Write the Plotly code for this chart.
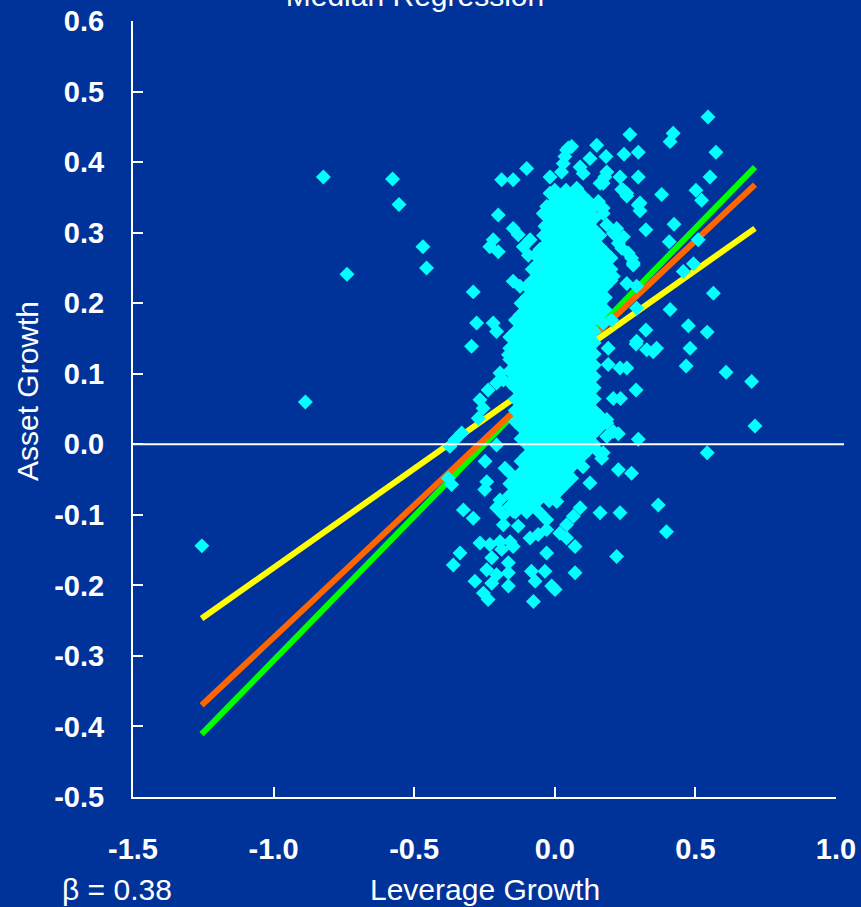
import plotly.graph_objects as go

# ---------------- data ----------------
# individually read scatter points (Leverage Growth, Asset Growth)
outlier_x = [
    -0.823, -0.577, -0.554, -0.469, -0.456, -0.739, -0.887, -1.255,
    0.545, 0.267, 0.421, 0.410, 0.573, 0.182, 0.246, 0.297, 0.552, 0.297, 0.232, 0.178,
    0.502, 0.522, 0.380, 0.238, 0.256, 0.303, 0.303, 0.424, 0.324, 0.407, 0.510, 0.493,
    0.457, 0.564, 0.279, 0.261, 0.226, 0.244, 0.291, 0.220, 0.208, 0.185, 0.172, 0.172,
    0.185, 0.172,
    0.410, 0.475, 0.542, 0.324, 0.289, 0.327, 0.362, 0.350, 0.481, 0.467, 0.609, 0.700,
    0.190, 0.190, 0.232, 0.256, 0.289, 0.208, 0.234, 0.185, 0.712, 0.226, 0.185, 0.297,
    0.542, 0.226, 0.273, 0.167, 0.178, 0.172, 0.202, 0.291,
    0.149, 0.048, 0.036, 0.030, 0.125, -0.100, -0.017, 0.024, -0.189, -0.148, 0.090, 0.101,
    0.161, 0.078, 0.090, -0.017, 0.001, 0.155, 0.244, 0.256, 0.297, 0.030, 0.036, -0.029,
    -0.041, -0.201, -0.035, -0.148, -0.130, -0.088, -0.219, -0.231, -0.201, -0.112, -0.094,
    0.214, 0.238, 0.273, 0.279, -0.053, -0.064, -0.290, -0.148, -0.124, -0.088, -0.064,
    -0.041, 0.137, 0.208, 0.256, 0.042, 0.060,
    -0.278, -0.219, -0.207, -0.296, -0.124, 0.291, -0.165, -0.195, -0.183, -0.207, -0.237,
    -0.266, -0.255, -0.272, -0.331, -0.355, -0.373, 0.208, 0.185, 0.149, 0.172, -0.207,
    -0.379, -0.367, -0.242, -0.249, -0.325, -0.290, -0.177, -0.159, 0.125, 0.161, 0.232,
    0.090, 0.066, 0.042, -0.005, 0.007, -0.064, -0.088, -0.053, -0.029, -0.195, -0.207,
    -0.183, -0.148, -0.183, -0.130, -0.088, -0.059, -0.029, 0.018, 0.042, 0.072, -0.266,
    -0.231, -0.195, -0.159, -0.148, -0.189, -0.224, -0.029, -0.337, -0.361, -0.165, 0.220,
    -0.242, -0.207, -0.165, -0.284, -0.224, -0.165, -0.083, -0.035, -0.070, 0.072, -0.011,
    0.001, -0.254, -0.237, -0.076, -0.248, 0.368, 0.397,
]
outlier_y = [
    0.379, 0.376, 0.340, 0.280, 0.250, 0.241, 0.060, -0.144,
    0.464, 0.439, 0.441, 0.429, 0.414, 0.408, 0.411, 0.414, 0.379, 0.379, 0.379, 0.379,
    0.360, 0.346, 0.354, 0.361, 0.352, 0.342, 0.331, 0.312, 0.304, 0.287, 0.290, 0.256,
    0.245, 0.214, 0.257, 0.271, 0.285, 0.294, 0.224, 0.306, 0.299, 0.311, 0.335, 0.327,
    0.386, 0.370,
    0.191, 0.168, 0.159, 0.162, 0.142, 0.134, 0.136, 0.131, 0.136, 0.111, 0.102, 0.089,
    0.136, 0.113, 0.108, 0.108, 0.077, 0.065, 0.065, 0.035, 0.026, 0.015, 0.011, 0.007,
    -0.012, -0.036, -0.041, -0.020, 0.191, 0.172, 0.176, 0.193,
    0.424, 0.420, 0.408, 0.398, 0.405, 0.391, 0.379, 0.386, 0.375, 0.375, 0.393, 0.384,
    0.370, 0.363, 0.351, 0.356, 0.349, 0.344, 0.360, 0.356, 0.339, 0.346, 0.332, 0.337,
    0.327, 0.325, 0.309, 0.306, 0.297, 0.290, 0.290, 0.280, 0.273, 0.280, 0.268,
    0.297, 0.278, 0.264, 0.254, 0.276, 0.266, 0.216, 0.231, 0.224, 0.224, 0.235,
    0.247, 0.242, 0.238, 0.228, 0.417, 0.422,
    0.172, 0.172, 0.160, 0.139, 0.183, 0.146, 0.127, 0.101, 0.091, 0.087, 0.077,
    0.063, 0.051, 0.037, 0.016, 0.006, -0.003, 0.018, 0.030, -0.008, -0.012, -0.001,
    -0.048, -0.057, -0.053, -0.064, -0.093, -0.105, -0.034, -0.041, -0.055, -0.097, -0.097,
    -0.090, -0.102, -0.114, -0.069, -0.081, -0.076, -0.090, -0.097, -0.107, -0.079, -0.090,
    -0.100, -0.095, -0.114, -0.116, -0.133, -0.128, -0.121, -0.126, -0.133, -0.145, -0.140,
    -0.142, -0.138, -0.138, -0.145, -0.149, -0.161, -0.154, -0.154, -0.171, -0.168, -0.159,
    -0.178, -0.185, -0.182, -0.194, -0.197, -0.201, -0.180, -0.180, -0.194, -0.182, -0.201,
    -0.206, -0.211, -0.220, -0.223, -0.024, -0.086, -0.124,
]

# dense core of the cloud, read row by row: (asset growth, [leverage growth values])
core_rows = [
    (0.360, [0.00, 0.04, 0.08]),
    (0.352, [0.02, 0.06, 0.10]),
    (0.344, [0.00, 0.04, 0.08, 0.12]),
    (0.336, [-0.02, 0.02, 0.06, 0.10, 0.14]),
    (0.328, [0.00, 0.04, 0.08, 0.12]),
    (0.320, [-0.02, 0.02, 0.06, 0.10, 0.14]),
    (0.312, [0.00, 0.04, 0.08, 0.12]),
    (0.304, [-0.02, 0.02, 0.06, 0.10, 0.14]),
    (0.296, [-0.04, 0.00, 0.04, 0.08, 0.12, 0.16]),
    (0.288, [-0.02, 0.02, 0.06, 0.10, 0.14]),
    (0.280, [-0.04, 0.00, 0.04, 0.08, 0.12, 0.16]),
    (0.272, [-0.06, -0.02, 0.02, 0.06, 0.10, 0.14, 0.18]),
    (0.264, [-0.04, 0.00, 0.04, 0.08, 0.12, 0.16, 0.20]),
    (0.256, [-0.06, -0.02, 0.02, 0.06, 0.10, 0.14, 0.18]),
    (0.248, [-0.08, -0.04, 0.00, 0.04, 0.08, 0.12, 0.16, 0.20]),
    (0.240, [-0.06, -0.02, 0.02, 0.06, 0.10, 0.14, 0.18]),
    (0.232, [-0.08, -0.04, 0.00, 0.04, 0.08, 0.12, 0.16, 0.20]),
    (0.224, [-0.10, -0.06, -0.02, 0.02, 0.06, 0.10, 0.14, 0.18]),
    (0.216, [-0.08, -0.04, 0.00, 0.04, 0.08, 0.12, 0.16]),
    (0.208, [-0.10, -0.06, -0.02, 0.02, 0.06, 0.10, 0.14, 0.18]),
    (0.200, [-0.12, -0.08, -0.04, 0.00, 0.04, 0.08, 0.12, 0.16]),
    (0.192, [-0.10, -0.06, -0.02, 0.02, 0.06, 0.10, 0.14]),
    (0.184, [-0.12, -0.08, -0.04, 0.00, 0.04, 0.08, 0.12, 0.16]),
    (0.176, [-0.14, -0.10, -0.06, -0.02, 0.02, 0.06, 0.10, 0.14]),
    (0.168, [-0.12, -0.08, -0.04, 0.00, 0.04, 0.08, 0.12]),
    (0.160, [-0.14, -0.10, -0.06, -0.02, 0.02, 0.06, 0.10, 0.14]),
    (0.152, [-0.16, -0.12, -0.08, -0.04, 0.00, 0.04, 0.08, 0.12]),
    (0.144, [-0.14, -0.10, -0.06, -0.02, 0.02, 0.06, 0.10, 0.14]),
    (0.136, [-0.16, -0.12, -0.08, -0.04, 0.00, 0.04, 0.08, 0.12]),
    (0.128, [-0.14, -0.10, -0.06, -0.02, 0.02, 0.06, 0.10, 0.14]),
    (0.120, [-0.16, -0.12, -0.08, -0.04, 0.00, 0.04, 0.08, 0.12]),
    (0.112, [-0.14, -0.10, -0.06, -0.02, 0.02, 0.06, 0.10, 0.14]),
    (0.104, [-0.16, -0.12, -0.08, -0.04, 0.00, 0.04, 0.08, 0.12]),
    (0.096, [-0.14, -0.10, -0.06, -0.02, 0.02, 0.06, 0.10, 0.14]),
    (0.088, [-0.16, -0.12, -0.08, -0.04, 0.00, 0.04, 0.08, 0.12]),
    (0.080, [-0.14, -0.10, -0.06, -0.02, 0.02, 0.06, 0.10, 0.14]),
    (0.072, [-0.12, -0.08, -0.04, 0.00, 0.04, 0.08, 0.12]),
    (0.064, [-0.14, -0.10, -0.06, -0.02, 0.02, 0.06, 0.10, 0.14]),
    (0.056, [-0.12, -0.08, -0.04, 0.00, 0.04, 0.08, 0.12]),
    (0.048, [-0.14, -0.10, -0.06, -0.02, 0.02, 0.06, 0.10, 0.14]),
    (0.040, [-0.12, -0.08, -0.04, 0.00, 0.04, 0.08, 0.12, 0.16]),
    (0.032, [-0.14, -0.10, -0.06, -0.02, 0.02, 0.06, 0.10, 0.14]),
    (0.024, [-0.12, -0.08, -0.04, 0.00, 0.04, 0.08, 0.12, 0.16]),
    (0.016, [-0.10, -0.06, -0.02, 0.02, 0.06, 0.10, 0.14]),
    (0.008, [-0.12, -0.08, -0.04, 0.00, 0.04, 0.08, 0.12]),
    (0.000, [-0.10, -0.06, -0.02, 0.02, 0.06, 0.10, 0.14]),
    (-0.008, [-0.08, -0.04, 0.00, 0.04, 0.08, 0.12]),
    (-0.016, [-0.10, -0.06, -0.02, 0.02, 0.06, 0.10]),
    (-0.024, [-0.12, -0.08, -0.04, 0.00, 0.04, 0.08]),
    (-0.032, [-0.10, -0.06, -0.02, 0.02, 0.06, 0.10]),
    (-0.040, [-0.12, -0.08, -0.04, 0.00, 0.04]),
    (-0.048, [-0.14, -0.10, -0.06, -0.02, 0.02, 0.06]),
    (-0.056, [-0.16, -0.12, -0.08, -0.04, 0.00, 0.04]),
    (-0.064, [-0.14, -0.10, -0.06, -0.02, 0.02]),
    (-0.072, [-0.16, -0.12, -0.08, -0.04, 0.00]),
    (-0.080, [-0.14, -0.10, -0.06, -0.02]),
    (-0.088, [-0.16, -0.12, -0.08]),
    (-0.096, [-0.14, -0.10]),
]

# regression lines (end points)
line_x = [-1.256, 0.712]
green_y = [-0.411, 0.393]
orange_y = [-0.370, 0.368]
yellow_y = [-0.247, 0.306]

x_ticks = [-1.5, -1.0, -0.5, 0.0, 0.5, 1.0]
x_ticktext = ["-1.5", "-1.0", "-0.5", "0.0", "0.5", "1.0"]
y_ticks = [0.6, 0.5, 0.4, 0.3, 0.2, 0.1, 0.0, -0.1, -0.2, -0.3, -0.4, -0.5]
y_ticktext = ["0.6", "0.5", "0.4", "0.3", "0.2", "0.1", "0.0",
              "-0.1", "-0.2", "-0.3", "-0.4", "-0.5"]

# ---------------- figure ----------------
core_x = [x for yv, xs in core_rows for x in xs]
core_y = [yv for yv, xs in core_rows for _ in xs]
all_x = outlier_x + core_x
all_y = outlier_y + core_y

BG = "#003399"
FONT = "Liberation Sans, Arial, sans-serif"

fig = go.Figure()
for ys, col in [(green_y, "#00FF00"), (orange_y, "#FF6600"), (yellow_y, "#FFFF00")]:
    fig.add_trace(go.Scatter(x=line_x, y=ys, mode="lines",
                             line=dict(color=col, width=6), hoverinfo="skip"))

fig.add_trace(go.Scatter(x=all_x, y=all_y, mode="markers",
                         marker=dict(symbol="diamond", size=11.5, color="#00FFFF",
                                     line=dict(width=0))))

# zero reference line, slightly overrunning the right end of the axis
fig.add_shape(type="line", xref="paper", yref="y", x0=0, x1=1.0114, y0=0, y1=0,
              line=dict(color="white", width=2), layer="above")

axis_common = dict(showgrid=False, zeroline=False, showline=True, linecolor="white",
                   linewidth=2, ticks="inside", ticklen=10, tickwidth=2, tickcolor="white",
                   automargin=False,
                   tickfont=dict(family=FONT, size=29, color="white", weight="bold"))

fig.update_layout(
    width=861, height=907,
    margin=dict(l=133, r=25, t=21, b=110, autoexpand=False),
    paper_bgcolor=BG, plot_bgcolor=BG,
    showlegend=False,
    font=dict(family=FONT, color="white"),
    title=dict(text="Median Regression", x=415 / 861, xanchor="center",
               yref="container", y=1 - 6 / 907, yanchor="bottom",
               font=dict(family=FONT, size=30, color="white")),
    xaxis=dict(range=[-1.5, 1.0], tickvals=x_ticks, ticktext=x_ticktext,
               ticklabelstandoff=25, **axis_common),
    yaxis=dict(range=[-0.5, 0.6], tickvals=y_ticks, ticktext=y_ticktext,
               ticklabelstandoff=21, **axis_common),
    annotations=[
        dict(text="Leverage Growth", xref="paper", yref="paper", x=0.5, y=-0.119,
             xanchor="center", yanchor="middle", showarrow=False,
             font=dict(family=FONT, size=30, color="white")),
        dict(text="β = 0.38", xref="paper", yref="paper", x=-0.0228, y=-0.119,
             xanchor="center", yanchor="middle", showarrow=False,
             font=dict(family=FONT, size=30, color="white")),
        dict(text="Asset Growth", xref="paper", yref="paper", x=-0.149, y=0.5235,
             xanchor="center", yanchor="middle", textangle=-90, showarrow=False,
             font=dict(family=FONT, size=30, color="white")),
    ],
)

fig.write_html("out.html")
